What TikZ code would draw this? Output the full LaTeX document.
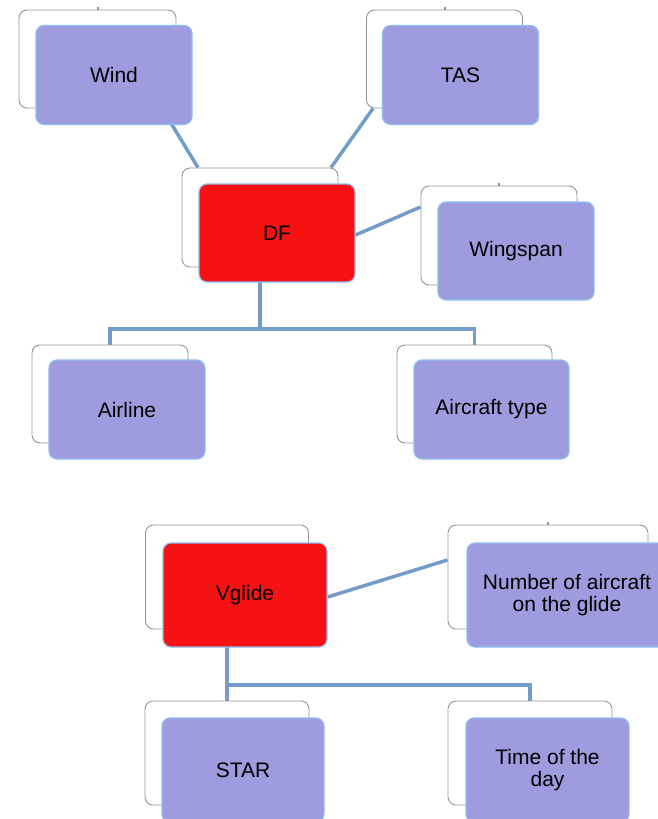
\documentclass[tikz,border=0pt]{standalone}
\usepackage{fontspec}
\setmainfont{Liberation Sans}
\usetikzlibrary{backgrounds}
\definecolor{lav}{RGB}{158,156,222}
\definecolor{redf}{RGB}{246,18,18}
\definecolor{edgeb}{RGB}{140,190,240}
\definecolor{conn}{RGB}{115,157,200}
\definecolor{backedge}{RGB}{150,150,150}
\begin{document}
\begin{tikzpicture}[x=1pt,y=-1pt,
  backbox/.style={draw=backedge,fill=white,line width=0.9pt,rounded corners=8pt,inner sep=0pt},
  frontbox/.style={draw=edgeb,fill=lav,line width=1.2pt,rounded corners=8pt,inner sep=0pt,align=center,
    font=\fontsize{21}{21.5}\selectfont},
  mainbox/.style={frontbox,fill=redf},
  link/.style={draw=conn,line width=3.5pt},
  stub/.style={draw=conn,line width=2pt}]
\useasboundingbox (0,0) rectangle (658,819);
\clip (0,0) rectangle (658,819);
% Wind
\node[backbox,minimum width=157,minimum height=98] (windb) at (97.5,59) {};
\node[frontbox,minimum width=156,minimum height=99] (wind) at (114,75) {Wind};
% TAS
\node[backbox,minimum width=156,minimum height=98] (tasb) at (444.5,59) {};
\node[frontbox,minimum width=156,minimum height=99] (tas) at (460.5,75) {TAS};
% DF
\node[backbox,minimum width=156,minimum height=99] (dfb) at (260,217.5) {};
\node[mainbox,minimum width=156,minimum height=98] (df) at (277,233) {DF};
% Wingspan
\node[backbox,minimum width=156,minimum height=99] (wingb) at (499,235.5) {};
\node[frontbox,minimum width=156,minimum height=98] (wing) at (516,251) {Wingspan};
% Airline
\node[backbox,minimum width=156,minimum height=98] (airb) at (110,394) {};
\node[frontbox,minimum width=156,minimum height=99] (air) at (127,409.5) {Airline};
% Aircraft type
\node[backbox,minimum width=155,minimum height=98] (acb) at (474.5,394) {};
\node[frontbox,minimum width=155,minimum height=99] (ac) at (491.5,409.5) {Aircraft type};
% Vglide
\node[backbox,minimum width=163,minimum height=104] (vgb) at (227,577) {};
\node[mainbox,minimum width=164,minimum height=104] (vg) at (245,595) {Vglide};
% Number of aircraft
\node[backbox,minimum width=200,minimum height=104] (numb) at (548,577) {};
\node[frontbox,minimum width=200,minimum height=104] (num) at (567,595) {Number of aircraft\\on the glide};
% STAR
\node[backbox,minimum width=164,minimum height=104] (starb) at (227,753) {};
\node[frontbox,minimum width=162,minimum height=104] (star) at (243,770) {STAR};
% Time of the day
\node[backbox,minimum width=164,minimum height=104] (timeb) at (530,753) {};
\node[frontbox,minimum width=163,minimum height=104] (time) at (547.5,770) {Time of the\\day};
% connectors
\coordinate (dfj) at (260,329);
\coordinate (vj) at (227,685);
\begin{pgfonlayer}{background}
\draw[link] ([xshift=64.5pt]windb.south) -- ([xshift=-62pt]dfb.north);
\draw[link] ([xshift=-71.5pt]tasb.south) -- ([xshift=71pt]dfb.north);
\draw[link] ([yshift=-2pt]df.east) -- ([yshift=28.5pt]wingb.west);
\draw[link] (dfb.center) -- (dfj) -| (airb.north);
\draw[link] (dfj) -| (acb.north);
\draw[link] ([yshift=-2pt]vg.east) -- ([yshift=17pt]numb.west);
\draw[link] (vgb.center) -- (vj) -| (starb.north);
\draw[link] (vj) -| (timeb.north);
\draw[stub] (windb.north) -- ++(0,-3);
\draw[stub] (tasb.north) -- ++(0,-3);
\draw[stub] (wingb.north) -- ++(0,-3);
\draw[stub] (numb.north) -- ++(0,-3);
\end{pgfonlayer}
\end{tikzpicture}
\end{document}
